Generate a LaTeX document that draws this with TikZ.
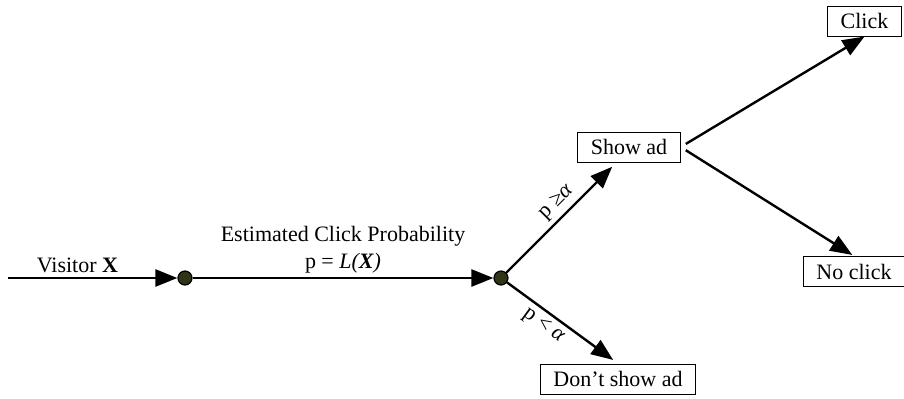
\documentclass[tikz,border=0pt]{standalone}
\usepackage{fontspec}
\setmainfont{Liberation Serif}
\usetikzlibrary{arrows.meta}

\begin{document}
\begin{tikzpicture}[
    x=0.5pt, y=-0.5pt,
    >={Triangle[length=11pt, width=8.5pt]},
    font=\fontsize{11}{13.5}\selectfont,
    % --- styles ---
    outcome/.style={
        draw=black, line width=0.5pt, fill=white,
        inner xsep=6.5pt, inner ysep=0pt,
        minimum height=15pt, align=center},
    junction/.style={
        circle, draw=black, line width=0.6pt, fill=dotfill,
        minimum size=7pt, inner sep=0pt},
    arr/.style={->, line width=1.2pt, black},
    lbl/.style={inner sep=2pt, align=center},
]
\definecolor{dotfill}{RGB}{50,52,22}

\useasboundingbox (0,0) rectangle (904,398);

% ===== JUNCTIONS =====
\coordinate (visitor) at (8,278);
\node[junction] (dotA) at (185,278) {};
\node[junction] (dotB) at (501,278) {};

% ===== OUTCOME BOXES =====
\node[outcome] (show)    at (629,147)   {Show ad};
\node[outcome] (noshow)  at (618,379)   {Don’t show ad};
\node[outcome] (click)   at (864.5,21)  {Click};
\node[outcome] (noclick) at (854,271.5) {No click};

% ===== ARROWS — scoring =====
\draw[arr] (visitor) -- (dotA)
    node[lbl, pos=0.41, above] {Visitor \textbf{X}};
\draw[arr] (dotA) -- (dotB)
    node[lbl, midway, above] {Estimated Click Probability\\p = \textit{L(\textbf{X})}};

% ===== ARROWS — decision =====
\draw[arr, shorten >=3pt] (dotB) -- (show.231)
    node[lbl, pos=0.55, above, sloped] {p ≥\textit{α}};
\draw[arr, shorten >=3pt] (dotB) -- (noshow.north)
    node[lbl, pos=0.4, below, sloped] {p < \textit{α}};

% ===== ARROWS — response =====
\draw[arr, shorten <=3pt] (show.east) -- (click.south);
\draw[arr, shorten <=3pt, shorten >=1pt] (show.east) -- (noclick.north);

\end{tikzpicture}
\end{document}
